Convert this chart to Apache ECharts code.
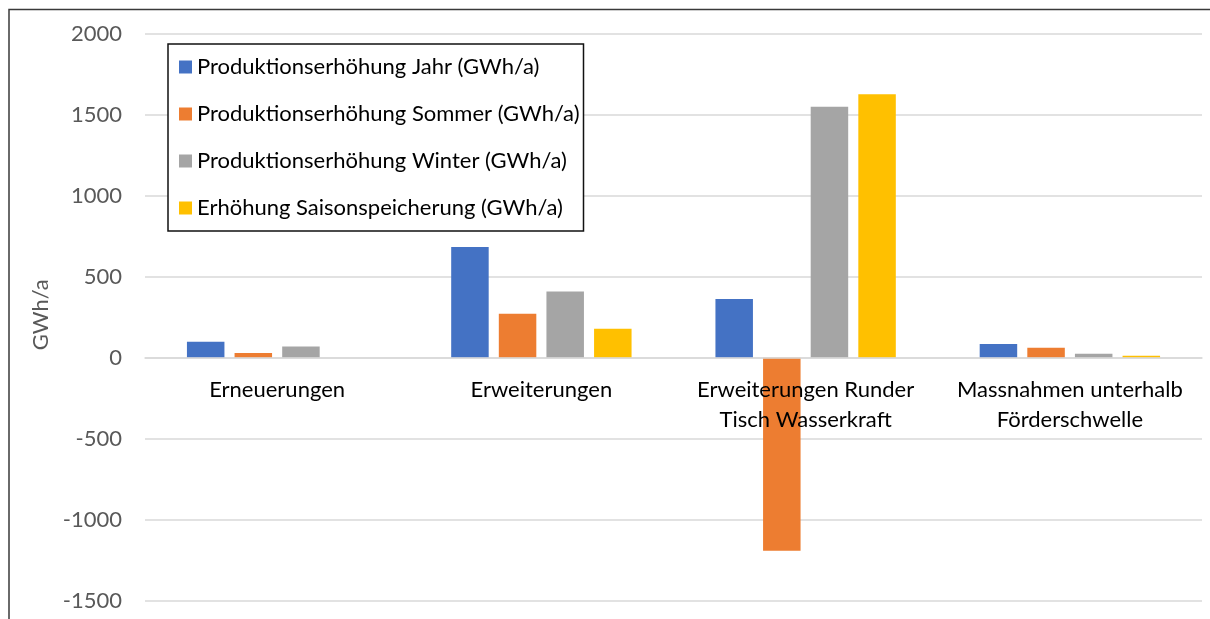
<!DOCTYPE html>
<html>
<head>
<meta charset="utf-8">
<script src="https://cdn.jsdelivr.net/npm/echarts@6/dist/echarts.min.js"></script>
<style>
  html, body { margin: 0; padding: 0; background: #fff; }
  #chart { width: 1210px; height: 619px; }
</style>
</head>
<body>
<div id="chart"></div>
<script>
// Kategorien (x-Achse)
var categories = ['Erneuerungen', 'Erweiterungen', 'Erweiterungen Runder\nTisch Wasserkraft', 'Massnahmen unterhalb\nFörderschwelle'];

// Werte in GWh/a
var jahr = [99, 683, 362, 85];
var sommer = [29, 272, -1190, 62];
var winter = [70, 409, 1549, 25];
var saison = [0, 179, 1625, 12];

var seriesNames = [
  'Produktionserhöhung Jahr (GWh/a)',
  'Produktionserhöhung Sommer (GWh/a)',
  'Produktionserhöhung Winter (GWh/a)',
  'Erhöhung Saisonspeicherung (GWh/a)'
];
var yTicks = [-1500, -1000, -500, 0, 500, 1000, 1500, 2000];

var FONT = 'Lato';
var FS = 22;
var chart = echarts.init(document.getElementById('chart'));

// Abstand der Nulllinie vom unteren Rand des Plotbereichs (Pixel)
var gridTop = 33.5, gridBottom = 18, plotH = 619 - gridTop - gridBottom;
var zeroOffset = -plotH * (0 - yTicks[0]) / (yTicks[yTicks.length - 1] - yTicks[0]);

function bar(name, data) {
  return {
    name: name,
    type: 'bar',
    data: data,
    barWidth: 37.5,
    barGap: '27%',
    animation: false
  };
}

chart.setOption({
  animation: false,
  color: ['#4472C4', '#ED7D31', '#A5A5A5', '#FFC000'],
  textStyle: { fontFamily: FONT },
  grid: { left: 145, right: 8, top: gridTop, bottom: gridBottom, containLabel: false, outerBoundsMode: 'none' },
  // Rahmen um das Diagramm
  graphic: [{
    type: 'rect',
    z: 100,
    silent: true,
    shape: { x: 9, y: 9.5, width: 1400, height: 800 },
    style: { fill: 'none', stroke: '#3a3a3a', lineWidth: 1.5 }
  }],
  legend: {
    orient: 'vertical',
    left: 168,
    top: 44,
    data: seriesNames,
    icon: 'rect',
    itemWidth: 13,
    itemHeight: 13,
    itemGap: 23,
    padding: [11, 4, 11, 11],
    backgroundColor: '#fff',
    borderColor: '#111',
    borderWidth: 1.5,
    borderRadius: 0,
    textStyle: { fontFamily: FONT, fontSize: FS, color: '#000', lineHeight: 24 }
  },
  xAxis: {
    type: 'category',
    data: categories,
    position: 'bottom',
    offset: zeroOffset,
    z: 10,
    axisLine: { onZero: false, lineStyle: { color: '#d9d9d9', width: 1.5 } },
    axisTick: { show: false },
    axisLabel: { interval: 0, margin: 17, fontFamily: FONT, fontSize: FS, color: '#000', lineHeight: 30 },
    splitLine: { show: false }
  },
  yAxis: {
    type: 'value',
    min: yTicks[0],
    max: yTicks[yTicks.length - 1],
    interval: 500,
    name: 'GWh/a',
    nameLocation: 'middle',
    nameGap: 81,
    nameTextStyle: { fontFamily: FONT, fontSize: FS, color: '#595959', padding: [0, 0, 0, 5] },
    axisLine: { show: false },
    axisTick: { show: false },
    axisLabel: {
      margin: 23, fontFamily: FONT, fontSize: FS, color: '#595959',
      formatter: function (v) { return String(v); }
    },
    splitLine: { lineStyle: { color: '#d9d9d9', width: 1.5 } }
  },
  series: [
    bar(seriesNames[0], jahr),
    bar(seriesNames[1], sommer),
    bar(seriesNames[2], winter),
    bar(seriesNames[3], saison)
  ]
});
</script>
</body>
</html>
